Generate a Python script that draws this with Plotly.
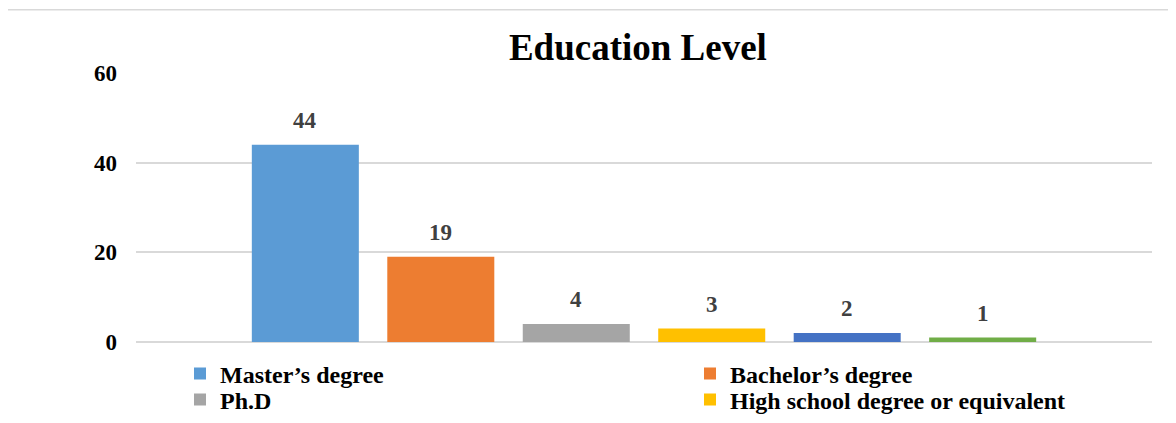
import plotly.graph_objects as go

categories = ["Master\u2019s degree", "Bachelor\u2019s degree", "Ph.D",
              "High school degree or equivalent", "Diploma", "Other"]
values = [44, 19, 4, 3, 2, 1]
colors = ["#5B9BD5", "#ED7D31", "#A5A5A5", "#FFC000", "#4472C4", "#70AD47"]
# legend box each series goes into (None = its legend row is cut off in the image)
legend_ids = ["legend", "legend2", "legend3", "legend4", None, None]
y_ticks = [0, 20, 40, 60]

FONT = "Liberation Serif"
W, H = 1176, 423

fig = go.Figure()
for cat, val, col, lid in zip(categories, values, colors, legend_ids):
    fig.add_trace(go.Bar(
        x=[cat], y=[val], name=cat, marker=dict(color=col, line=dict(width=0)),
        showlegend=lid is not None, legend=lid if lid else "legend",
    ))

for cat, val in zip(categories, values):
    fig.add_annotation(
        x=cat, y=val, text=str(val), showarrow=False,
        yanchor="bottom", yshift=10,
        font=dict(family=FONT, size=23, color="#404040", weight="bold"),
    )

legend_font = dict(family=FONT, size=24, color="black", weight="bold")


def legend_box(left_px, center_px):
    return dict(
        x=left_px / W, xref="container", xanchor="left",
        y=1 - center_px / H, yref="container", yanchor="middle",
        font=legend_font, itemclick=False, bgcolor="rgba(0,0,0,0)",
        borderwidth=0,
    )


fig.update_layout(
    width=W, height=H,
    margin=dict(l=128, r=32, t=64.5, b=88.5, autoexpand=False),
    paper_bgcolor="white", plot_bgcolor="white",
    barmode="overlay", bargap=0.21,
    title=dict(
        text="Education Level",
        font=dict(family=FONT, size=37, color="black", weight="bold"),
        x=0.494, xref="paper", xanchor="center",
        y=1 - 39 / H, yref="container", yanchor="middle",
    ),
    xaxis=dict(
        showticklabels=False, showgrid=False, zeroline=False,
        range=[-1.25, 6.25], fixedrange=True,
    ),
    yaxis=dict(
        range=[0, 60], tickvals=y_ticks, showgrid=True,
        gridcolor="#D9D9D9", gridwidth=2,
        zeroline=True, zerolinecolor="#D9D9D9", zerolinewidth=2,
        tickfont=dict(family=FONT, size=23, color="black", weight="bold"),
        ticklabelstandoff=18, ticks="",
    ),
    legend=legend_box(172, 366),
    legend2=legend_box(682, 366),
    legend3=legend_box(172, 392),
    legend4=legend_box(682, 392),
    shapes=[
        dict(type="line", xref="paper", yref="paper",
             x0=-129 / 1016, x1=1.2,
             y0=333.5 / 270, y1=333.5 / 270,
             line=dict(color="#D9D9D9", width=1.5)),
        dict(type="line", xref="paper", yref="paper",
             x0=-129 / 1016, x1=-129 / 1016,
             y0=333.5 / 270, y1=-0.5,
             line=dict(color="#D9D9D9", width=1.5)),
    ],
)

fig.write_html("out.html")
